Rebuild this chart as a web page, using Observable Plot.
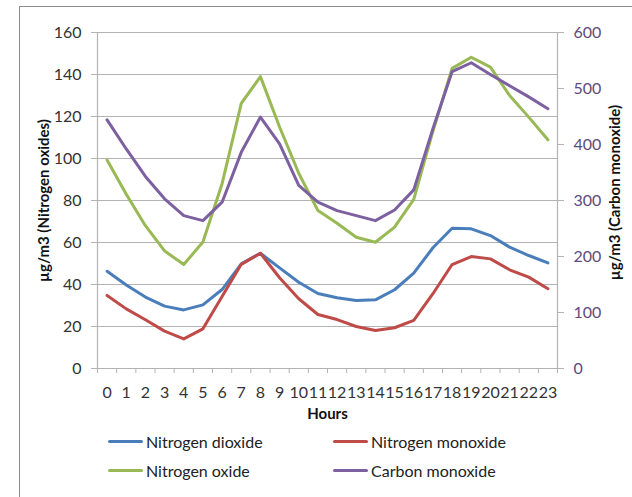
<!DOCTYPE html>
<html>
<head>
<meta charset="utf-8">
<script src="https://cdn.jsdelivr.net/npm/d3@7"></script>
<script src="https://cdn.jsdelivr.net/npm/@observablehq/plot@0.6"></script>
<style>
  html, body { margin: 0; padding: 0; background: #fff; }
  body { width: 632px; height: 497px; overflow: hidden; position: relative; font-family: Lato, "Open Sans", sans-serif; }
  #frame { position: absolute; left: 19px; top: 6px; width: 700px; height: 600px;
           border-left: 1.5px solid #8c8c8c; border-top: 1.5px solid #8c8c8c; }
  #chart { position: absolute; left: 0; top: 0; }
  #legend { position: absolute; left: 108px; top: 432px; width: 480px; font-size: 16px; color: #222; }
  .item { position: absolute; display: flex; align-items: center; white-space: nowrap; }
  .sw { width: 35px; height: 3.5px; border-radius: 2px; margin-right: 3px; }
</style>
</head>
<body>
<div id="frame"></div>
<div id="chart"></div>
<div id="legend"></div>
<script>
// Hours of the day
const hours = d3.range(0, 24);

// Hourly mean concentrations, µg/m3
const nitrogenDioxide = [46.3, 39.8, 34.0, 29.7, 27.9, 30.3, 37.6, 49.8, 54.9, 47.9, 41.1, 35.7,
                         33.7, 32.4, 32.7, 37.5, 45.4, 57.5, 66.8, 66.5, 63.3, 57.8, 53.8, 50.3];
const nitrogenMonoxide = [34.8, 28.4, 23.2, 17.8, 14.1, 18.9, 34.3, 49.6, 54.9, 43.2, 33.2, 25.7,
                          23.3, 20.0, 18.1, 19.4, 22.9, 35.6, 49.5, 53.3, 52.2, 47.0, 43.5, 38.0];
const nitrogenOxide = [99.3, 83.0, 68.0, 56.0, 49.5, 60.2, 88.0, 126.2, 139.0, 115.0, 93.0, 75.2,
                       69.2, 62.5, 60.1, 67.3, 80.5, 113.0, 142.9, 148.2, 143.5, 130.0, 119.7, 108.9];
const carbonMonoxide = [444, 392, 343, 303, 273, 264, 297, 386, 449, 401, 327, 297,
                        282, 273, 264, 283, 319, 428, 530, 546, 525, 505, 485, 464];

const seriesNames = ["Nitrogen dioxide", "Nitrogen monoxide", "Nitrogen oxide", "Carbon monoxide"];
const seriesColors = ["#4a7ebb", "#be4b48", "#98b954", "#7d60a0"];

// Left axis spans 0–160, right axis 0–600 (carbon monoxide)
const leftMax = 160, rightMax = 600;
const k = rightMax / leftMax;

const rows = [];
[nitrogenDioxide, nitrogenMonoxide, nitrogenOxide].forEach((arr, s) =>
  arr.forEach((v, i) => rows.push({series: seriesNames[s], hour: hours[i], y: v})));
carbonMonoxide.forEach((v, i) => rows.push({series: seriesNames[3], hour: hours[i], y: v / k}));

const gridColor = "#b3b3b3";
const purple = "#604a7b";

const chart = Plot.plot({
  width: 632,
  height: 430,
  marginLeft: 97,
  marginRight: 75,
  marginTop: 32,
  marginBottom: 62,
  style: {fontFamily: "Lato, 'Open Sans', sans-serif", fontSize: "16px", color: "#333", background: "transparent"},
  x: {domain: [-0.5, 23.5], axis: null},
  y: {domain: [0, leftMax], axis: null},
  color: {domain: seriesNames, range: seriesColors},
  marks: [
    Plot.gridY(d3.range(0, leftMax + 1, 20), {stroke: gridColor, strokeOpacity: 1, strokeWidth: 1.2}),
    // left axis
    Plot.axisY(d3.range(0, leftMax + 1, 20), {anchor: "left", tickSize: 6, tickPadding: 10, stroke: gridColor, fill: "#333", label: null}),
    Plot.ruleX([-0.5], {stroke: gridColor, strokeWidth: 1.2}),
    // right axis, in carbon monoxide units
    Plot.axisY(d3.range(0, rightMax + 1, 100).map(d => d / k), {
      anchor: "right", tickSize: 6, tickPadding: 10, stroke: gridColor, fill: purple,
      tickFormat: d => Math.round(d * k), label: null
    }),
    Plot.ruleX([23.5], {stroke: gridColor, strokeWidth: 1.2}),
    // category boundaries and hour labels
    Plot.axisX(d3.range(-0.5, 24, 1), {anchor: "bottom", tickSize: 5, stroke: gridColor, tickFormat: () => "", label: null}),
    Plot.axisX(hours, {anchor: "bottom", tickSize: 0, tickPadding: 18, fill: "#333", tickFormat: d => String(d), label: null}),
    Plot.line(rows, {x: "hour", y: "y", z: "series", stroke: "series", strokeWidth: 3, curve: "linear"}),
    // axis titles
    Plot.text(["Hours"], {frameAnchor: "bottom", dy: 50, fontWeight: "bold", fontSize: 15, fill: "#111"}),
    Plot.text(["µg/m3 (Nitrogen oxides)"], {frameAnchor: "left", textAnchor: "middle", dx: -53, rotate: -90, fontWeight: "bold", fontSize: 15, fill: "#111"}),
    Plot.text(["µg/m3 (Carbon monoxide)"], {frameAnchor: "right", textAnchor: "middle", dx: 58, dy: -8, rotate: -90, fontWeight: "bold", fontSize: 15, fill: "#111"})
  ]
});
document.getElementById("chart").appendChild(chart);

// legend, two columns
const legend = document.getElementById("legend");
seriesNames.forEach((name, i) => {
  const item = document.createElement("div");
  item.className = "item";
  item.style.left = (i % 2 === 0 ? 0 : 225) + "px";
  item.style.top = (i < 2 ? 0 : 29) + "px";
  const sw = document.createElement("div");
  sw.className = "sw";
  sw.style.background = seriesColors[i];
  const label = document.createElement("span");
  label.textContent = name;
  item.appendChild(sw);
  item.appendChild(label);
  legend.appendChild(item);
});
</script>
</body>
</html>
